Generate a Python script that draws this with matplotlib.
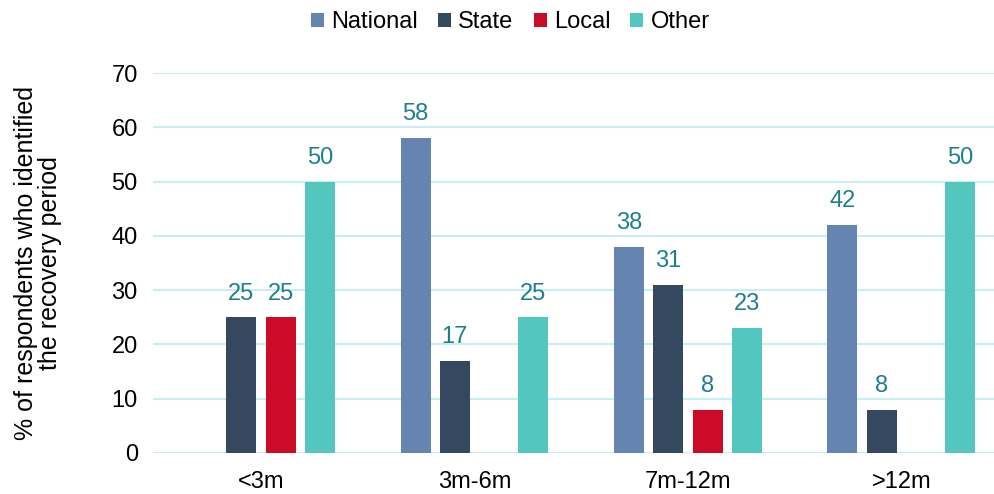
import matplotlib.pyplot as plt
import numpy as np

plt.rcParams['font.family'] = ['Liberation Sans', 'DejaVu Sans']

# data
categories = ['<3m', '3m-6m', '7m-12m', '>12m']
series_names = ['National', 'State', 'Local', 'Other']
national = [0, 58, 38, 42]
state = [25, 17, 31, 8]
local = [25, 0, 8, 0]
other = [50, 25, 23, 50]

colors = ['#6585B0', '#34495F', '#CC0B28', '#52C6BF']
label_color = '#1E7F8C'
grid_color = '#C8EEF5'

fig = plt.figure(figsize=(9.95, 4.94), dpi=100)
ax = fig.add_axes([0.1538, 0.083, 0.846, 0.769])

x = np.arange(len(categories))
width = 0.1405
step = 0.184

for i, (name, vals, c) in enumerate(zip(series_names, [national, state, local, other], colors)):
    pos = x + (i - 1.5) * step
    ax.bar(pos, vals, width, color=c, label=name, zorder=3)
    for p, v in zip(pos, vals):
        if v > 0:
            ax.text(p, v + 2.35, str(v), ha='center', va='bottom',
                    fontsize=17, color=label_color, zorder=4)

ax.set_ylim(0, 70)
ax.set_yticks(range(0, 71, 10))
ax.set_xlim(-0.506, 3.438)
ax.set_xticks(x)
ax.set_xticklabels(categories)
ax.yaxis.grid(True, color=grid_color, linewidth=1.5, zorder=0)
for s in ax.spines.values():
    s.set_visible(False)
ax.tick_params(axis='both', length=0, labelsize=17, colors='black')
ax.tick_params(axis='y', pad=11)
ax.tick_params(axis='x', pad=13)

ax.set_ylabel('% of respondents who identified\nthe recovery period', fontsize=18,
              linespacing=1.0, va='center')
ax.yaxis.set_label_coords(-0.137, 0.5)

fig.legend(loc='upper center', bbox_to_anchor=(0.513, 1.02), ncol=4, frameon=False,
           fontsize=17, handlelength=0.55, handleheight=0.55, handletextpad=0.3,
           columnspacing=0.85)

fig.savefig('out.png', dpi=100)
